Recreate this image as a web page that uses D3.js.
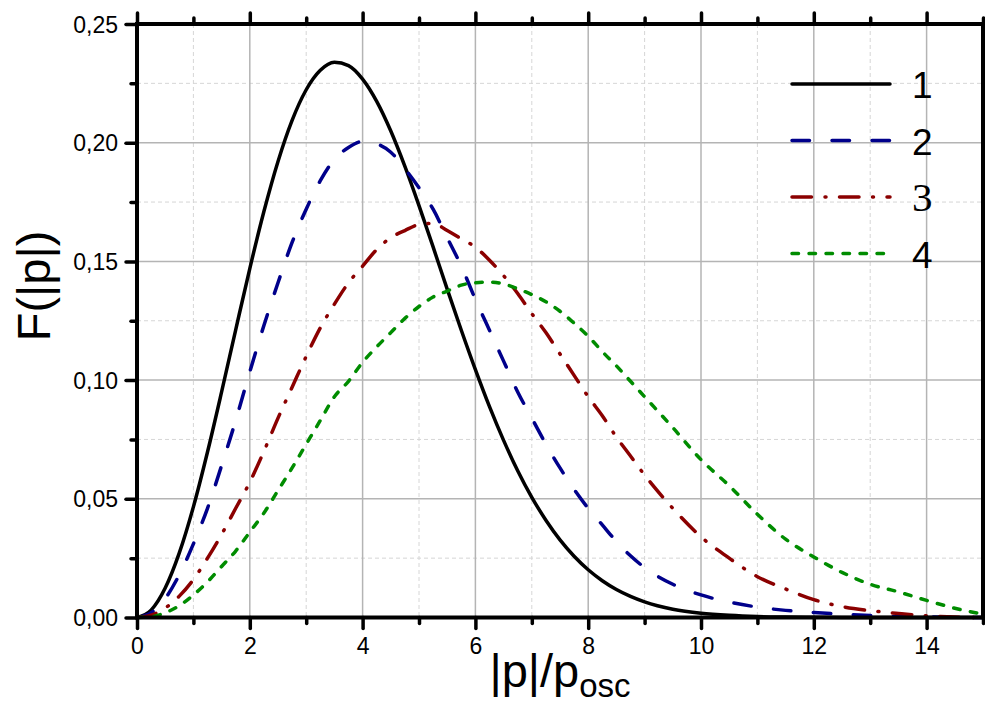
<!DOCTYPE html>
<html>
<head>
<meta charset="utf-8">
<script src="https://cdn.jsdelivr.net/npm/d3@7"></script>
<style>
  body { margin: 0; background: #fff; }
  svg text { fill: #000; }
</style>
</head>
<body>
<svg id="chart" width="985" height="704" font-family="Arial, 'Liberation Sans', sans-serif"></svg>
<script>
// ticks
const xMajor = [0, 2, 4, 6, 8, 10, 12, 14];
const xMinor = [1, 3, 5, 7, 9, 11, 13, 15];
const yMajor = [0, 0.05, 0.10, 0.15, 0.20, 0.25];
const yMinor = [0.025, 0.075, 0.125, 0.175, 0.225];
const yLabels = ["0,00", "0,05", "0,10", "0,15", "0,20", "0,25"];

// |p|/p_osc grid the curves were read at
const pAxis = [0, 0.25, 0.5, 0.75, 1, 1.25, 1.5, 1.75, 2, 2.25, 2.5, 2.75, 3, 3.25, 3.5, 3.75,
  4, 4.25, 4.5, 4.75, 5, 5.25, 5.5, 5.75, 6, 6.25, 6.5, 6.75, 7, 7.25, 7.5, 7.75,
  8, 8.25, 8.5, 8.75, 9, 9.5, 10, 10.5, 11, 11.5, 12, 12.5, 13, 13.5, 14, 14.5, 15];

// F(|p|) for the four curves
const f1 = [0, 0.0031, 0.0124, 0.0272, 0.0466, 0.0697, 0.0950, 0.1212, 0.1470, 0.1710, 0.1921, 0.2094,
  0.2223, 0.2305, 0.2339, 0.2325, 0.2268, 0.2174, 0.2049, 0.1900, 0.1735, 0.1561, 0.1383, 0.1210,
  0.1044, 0.0888, 0.0746, 0.0618, 0.0506, 0.0410, 0.0327, 0.0258, 0.0201, 0.0155, 0.0118, 0.0089,
  0.0066, 0.0035, 0.0018, 0.0009, 0.0004, 0.0002, 0.0001, 0, 0, 0, 0, 0, 0];
const f2 = [0, 0.002, 0.008, 0.018, 0.031, 0.046, 0.064, 0.083, 0.1035, 0.123, 0.141, 0.158,
  0.172, 0.184, 0.193, 0.198, 0.2005, 0.1995, 0.196, 0.189, 0.181, 0.172, 0.160, 0.148,
  0.134, 0.121, 0.108, 0.095, 0.084, 0.073, 0.063, 0.054, 0.046, 0.039, 0.032, 0.026,
  0.021, 0.014, 0.0095, 0.0065, 0.0044, 0.003, 0.0021, 0.0014, 0.0008, 0.0004, 0.0002, 0.0001, 0];
const f3 = [0, 0.001, 0.004, 0.009, 0.016, 0.025, 0.035, 0.046, 0.057, 0.070, 0.084, 0.097,
  0.110, 0.122, 0.132, 0.141, 0.148, 0.155, 0.160, 0.163, 0.1655, 0.166, 0.163, 0.1595,
  0.156, 0.1505, 0.144, 0.1365, 0.128, 0.120, 0.111, 0.102, 0.093, 0.085, 0.076, 0.068,
  0.060, 0.046, 0.034, 0.025, 0.0172, 0.012, 0.0075, 0.0046, 0.0029, 0.0017, 0.0007, 0.0002, 0];
const f4 = [0, 0.0003, 0.002, 0.005, 0.0095, 0.015, 0.0215, 0.028, 0.036, 0.044, 0.0535, 0.063,
  0.073, 0.083, 0.093, 0.0995, 0.1075, 0.114, 0.120, 0.126, 0.131, 0.135, 0.1375, 0.140,
  0.141, 0.1413, 0.1405, 0.1385, 0.136, 0.133, 0.129, 0.124, 0.1185, 0.112, 0.106, 0.0995,
  0.093, 0.080, 0.0665, 0.0555, 0.0435, 0.033, 0.0255, 0.019, 0.014, 0.0108, 0.0072, 0.0039, 0.0014];

const seriesNames = ["1", "2", "3", "4"];
const seriesValues = [f1, f2, f3, f4];
const colors = ["#000000", "#00008b", "#8b0000", "#008c00"];
const dashes = ["none", "17.5,22.5", "19.5,13.5,1,13.5", "6.5,10.5"];

const margin = {left: 137, top: 24, right: 2, bottom: 86.5};
const width = 985 - margin.left - margin.right;
const height = 704 - margin.top - margin.bottom;

const svg = d3.select("#chart");
const chart = svg.append("g").attr("transform", `translate(${margin.left},${margin.top})`);

const x = d3.scaleLinear().domain([0, 15]).range([0, width]);
const y = d3.scaleLinear().domain([0, 0.25]).range([height, 0]);

// grid
chart.append("g").selectAll("line").data(xMinor.filter(d => d < 15)).enter().append("line")
  .attr("x1", d => x(d)).attr("x2", d => x(d)).attr("y1", 0).attr("y2", height)
  .attr("stroke", "#d6d6d6").attr("stroke-width", 1).attr("stroke-dasharray", "4,3");
chart.append("g").selectAll("line").data(yMinor).enter().append("line")
  .attr("x1", 0).attr("x2", width).attr("y1", d => y(d)).attr("y2", d => y(d))
  .attr("stroke", "#d6d6d6").attr("stroke-width", 1).attr("stroke-dasharray", "4,3");
chart.append("g").selectAll("line").data(xMajor.filter(d => d > 0)).enter().append("line")
  .attr("x1", d => x(d)).attr("x2", d => x(d)).attr("y1", 0).attr("y2", height)
  .attr("stroke", "#b4b4b4").attr("stroke-width", 1.5);
chart.append("g").selectAll("line").data(yMajor.filter(d => d > 0 && d < 0.25)).enter().append("line")
  .attr("x1", 0).attr("x2", width).attr("y1", d => y(d)).attr("y2", d => y(d))
  .attr("stroke", "#b4b4b4").attr("stroke-width", 1.5);

// curves
const line = d3.line().x(d => x(d[0])).y(d => y(d[1])).curve(d3.curveMonotoneX);
seriesValues.forEach((vals, i) => {
  chart.append("path")
    .datum(pAxis.map((p, j) => [p, vals[j]]))
    .attr("d", line)
    .attr("fill", "none")
    .attr("stroke", colors[i])
    .attr("stroke-width", 3.5)
    .attr("stroke-linecap", "round")
    .attr("stroke-linejoin", "round")
    .attr("stroke-dasharray", dashes[i]);
});

// axes: ticks on all four sides
function styleAxis(g) {
  g.attr("font-family", null).attr("font-size", null);
  g.select(".domain").remove();
  g.selectAll(".tick line").attr("stroke", "#000").attr("stroke-width", 3.5).attr("stroke-linecap", "round");
  g.selectAll(".tick text").style("font-size", "23px");
}
const fmtY = d => yLabels[yMajor.indexOf(d)];

chart.append("g").attr("transform", `translate(0,${height})`)
  .call(d3.axisBottom(x).tickValues(xMajor).tickSize(11).tickPadding(9).tickFormat(d3.format("d")))
  .call(styleAxis);
chart.append("g").attr("transform", `translate(0,${height})`)
  .call(d3.axisBottom(x).tickValues(xMinor).tickSize(6).tickFormat(""))
  .call(styleAxis);
chart.append("g")
  .call(d3.axisTop(x).tickValues(xMajor).tickSize(11).tickFormat(""))
  .call(styleAxis);
chart.append("g")
  .call(d3.axisTop(x).tickValues(xMinor).tickSize(6).tickFormat(""))
  .call(styleAxis);
chart.append("g")
  .call(d3.axisLeft(y).tickValues(yMajor).tickSize(11).tickPadding(8).tickFormat(fmtY))
  .call(styleAxis)
  .selectAll(".tick text").attr("dy", "0.35em");
chart.append("g")
  .call(d3.axisLeft(y).tickValues(yMinor).tickSize(6).tickFormat(""))
  .call(styleAxis);
chart.append("g").attr("transform", `translate(${width},0)`)
  .call(d3.axisRight(y).tickValues(yMajor).tickSize(11).tickFormat(""))
  .call(styleAxis);

// frame
chart.append("rect")
  .attr("x", 0).attr("y", 0).attr("width", width).attr("height", height)
  .attr("fill", "none").attr("stroke", "#000").attr("stroke-width", 4);

// legend
const legend = chart.append("g");
seriesNames.forEach((name, i) => {
  const ly = 60 + i * 56.5;
  legend.append("line")
    .attr("x1", 655).attr("x2", 753).attr("y1", ly).attr("y2", ly)
    .attr("stroke", colors[i]).attr("stroke-width", 3.5)
    .attr("stroke-linecap", "round").attr("stroke-dasharray", dashes[i]);
  const t = legend.append("text")
    .attr("x", 775).attr("y", ly + 14)
    .style("font-size", name === "3" ? "41px" : "37px")
    .text(name);
  if (name === "3") t.style("font-family", "Liberation Serif");
});

// axis titles
svg.append("text")
  .attr("transform", "translate(50,286) rotate(-90)")
  .attr("text-anchor", "middle")
  .attr("font-size", 47)
  .text("F(|p|)");

const xt = svg.append("text")
  .attr("x", 560).attr("y", 687)
  .attr("text-anchor", "middle")
  .attr("font-size", 47);
xt.append("tspan").text("|p|/p");
xt.append("tspan").attr("font-size", 33).attr("dy", 10).text("osc");
</script>
</body>
</html>
